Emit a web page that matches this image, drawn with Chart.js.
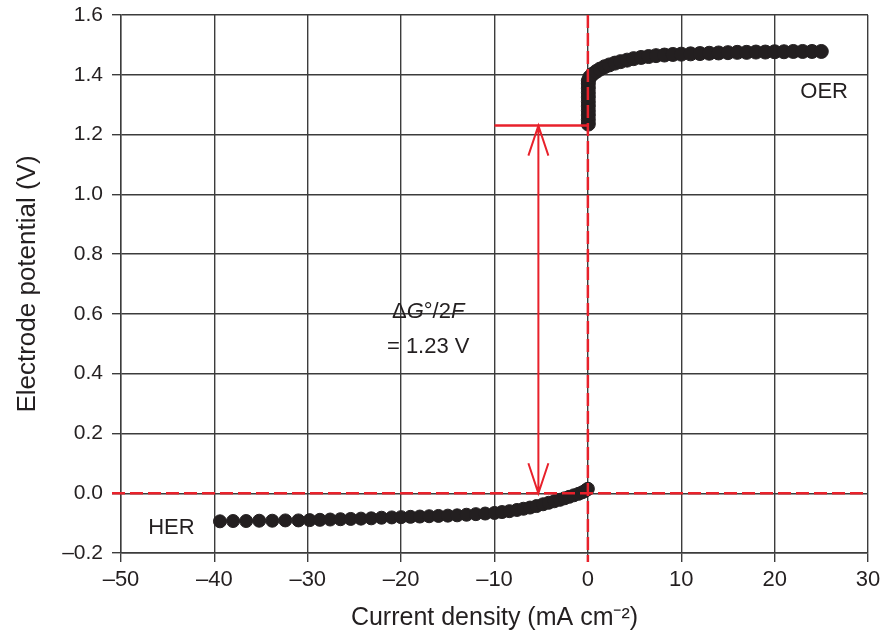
<!DOCTYPE html>
<html>
<head>
<meta charset="utf-8">
<script src="https://cdn.jsdelivr.net/npm/chart.js@4"></script>
<style>
  body { margin: 0; background: #fff; }
</style>
</head>
<body>
<canvas id="myChart" width="885" height="633"></canvas>
<script>
// HER branch (negative current)
const herCurrent = [-39.4,-38.0,-36.6,-35.2,-33.8,-32.4,-31.0,-29.8,-28.7,-27.6,-26.5,-25.4,-24.3,-23.2,-22.1,-21.0,-20.0,-19.0,-18.0,-17.0,-16.0,-15.0,-14.0,-13.0,-12.0,-11.0,-10.0,-9.2,-8.4,-7.6,-6.9,-6.2,-5.5,-4.8,-4.2,-3.6,-3.0,-2.5,-2.0,-1.5,-1.0,-0.6,-0.3,-0.1,0.0];
const herPotential = [-0.094,-0.093,-0.093,-0.092,-0.092,-0.091,-0.091,-0.090,-0.089,-0.088,-0.087,-0.086,-0.085,-0.084,-0.082,-0.081,-0.080,-0.079,-0.078,-0.077,-0.076,-0.075,-0.074,-0.072,-0.070,-0.068,-0.066,-0.063,-0.060,-0.056,-0.052,-0.048,-0.043,-0.037,-0.032,-0.027,-0.022,-0.017,-0.012,-0.007,-0.002,0.003,0.008,0.012,0.015];

// OER branch (positive current)
const oerCurrent = [0.05,0.05,0.05,0.05,0.05,0.05,0.05,0.05,0.05,0.05,0.05,0.2,0.5,0.9,1.3,1.8,2.3,2.9,3.5,4.2,4.9,5.7,6.5,7.3,8.2,9.1,10,11,12,13,14,15,16,17,18,19,20,21,22,23,24,25];
const oerPotential = [1.235,1.25,1.265,1.28,1.295,1.31,1.325,1.34,1.355,1.37,1.38,1.392,1.402,1.411,1.419,1.427,1.433,1.439,1.444,1.449,1.454,1.458,1.461,1.464,1.466,1.468,1.469,1.470,1.471,1.472,1.473,1.474,1.475,1.475,1.476,1.476,1.477,1.477,1.478,1.478,1.478,1.478];

const thermoV = 1.23;     // dG/2F
const arrowCurrent = -5.3;
const barFrom = -10;      // red bar at 1.23 V from -10 to 0

const xTicks = {min: -50, max: 30, step: 10};
const yTicks = {min: -0.2, max: 1.6, step: 0.2};

const ink = "#231f20";
const red = "#e8212b";
const font = "'Liberation Sans', Arial, Helvetica, sans-serif";

function minus(s) { return s.replace("-", "\u2013"); }

const annotate = {
  id: "annotate",
  afterDatasetsDraw(chart) {
    const ctx = chart.ctx;
    const xs = chart.scales.x, ys = chart.scales.y;
    const area = chart.chartArea;
    const x0 = xs.getPixelForValue(0), y0 = ys.getPixelForValue(0);
    ctx.save();
    ctx.strokeStyle = red;
    ctx.lineWidth = 2.5;

    // dashed zero lines
    ctx.setLineDash([13, 5]);
    ctx.beginPath();
    ctx.moveTo(x0, area.top);
    ctx.lineTo(x0, area.bottom + 9);
    ctx.moveTo(area.left - 9, y0);
    ctx.lineTo(area.right, y0);
    ctx.stroke();
    ctx.setLineDash([]);

    // 1.23 V bar
    const yT = ys.getPixelForValue(thermoV);
    ctx.beginPath();
    ctx.moveTo(xs.getPixelForValue(barFrom), yT);
    ctx.lineTo(x0, yT);
    ctx.stroke();

    // double headed arrow
    const xa = xs.getPixelForValue(arrowCurrent);
    ctx.lineWidth = 2;
    ctx.beginPath();
    ctx.moveTo(xa, yT);
    ctx.lineTo(xa, y0);
    ctx.moveTo(xa - 10, yT + 30); ctx.lineTo(xa, yT); ctx.lineTo(xa + 10, yT + 30);
    ctx.moveTo(xa - 10, y0 - 30); ctx.lineTo(xa, y0); ctx.lineTo(xa + 10, y0 - 30);
    ctx.stroke();

    // labels
    ctx.fillStyle = ink;
    ctx.textBaseline = "alphabetic";
    ctx.textAlign = "center";
    ctx.font = "22px " + font;
    ctx.fillText("HER", xs.getPixelForValue(-44.6), ys.getPixelForValue(-0.137));
    ctx.fillText("OER", xs.getPixelForValue(25.3), ys.getPixelForValue(1.321));
    ctx.fillText("= 1.23 V", xs.getPixelForValue(-17.1), ys.getPixelForValue(0.468));

    // dG°/2F with italic G and F
    const parts = [["\u0394", false], ["G", true], ["\u00b0/2", false], ["F", true]];
    let w = 0;
    parts.forEach(p => { ctx.font = (p[1] ? "italic " : "") + "22px " + font; w += ctx.measureText(p[0]).width; });
    let x = xs.getPixelForValue(-17.1) - w / 2;
    const yl = ys.getPixelForValue(0.585);
    ctx.textAlign = "left";
    parts.forEach(p => {
      ctx.font = (p[1] ? "italic " : "") + "22px " + font;
      ctx.fillText(p[0], x, yl);
      x += ctx.measureText(p[0]).width;
    });
    ctx.restore();
  }
};

new Chart("myChart", {
  type: "scatter",
  data: {
    datasets: [{
      label: "HER",
      data: herCurrent.map((c, i) => ({x: c, y: herPotential[i]})),
      backgroundColor: ink,
      borderColor: ink,
      pointRadius: 6.5
    }, {
      label: "OER",
      data: oerCurrent.map((c, i) => ({x: c, y: oerPotential[i]})),
      backgroundColor: ink,
      borderColor: ink,
      pointRadius: 7
    }]
  },
  options: {
    responsive: false,
    animation: false,
    layout: {padding: {top: 15, right: 17, left: 0, bottom: 0}},
    plugins: {legend: {display: false}, tooltip: {enabled: false}},
    scales: {
      x: {
        type: "linear",
        min: xTicks.min, max: xTicks.max,
        afterFit(s) { s.height = 80; s.paddingLeft = 0; s.paddingRight = 0; },
        ticks: {
          stepSize: xTicks.step,
          color: ink,
          padding: 5,
          font: {family: font, size: 22},
          callback: v => minus(String(v))
        },
        grid: {color: "#3c3c3c", lineWidth: 1.4, tickLength: 9},
        border: {color: "#3c3c3c", width: 1.4},
        title: {
          display: true,
          text: "Current density (mA cm\u207b\u00b2)",
          color: ink,
          font: {family: font, size: 25},
          padding: {top: 0, bottom: 0}
        }
      },
      y: {
        min: yTicks.min, max: yTicks.max,
        afterFit(s) { s.width = 121; s.paddingTop = 0; s.paddingBottom = 0; },
        ticks: {
          stepSize: yTicks.step,
          color: ink,
          padding: 9,
          font: {family: font, size: 21},
          callback: v => minus((Math.abs(v) < 1e-9 ? 0 : v).toFixed(1))
        },
        grid: {color: "#3c3c3c", lineWidth: 1.4, tickLength: 9},
        border: {color: "#3c3c3c", width: 1.4},
        title: {
          display: true,
          text: "Electrode potential (V)",
          color: ink,
          font: {family: font, size: 26},
          padding: {top: 12, bottom: 0}
        }
      }
    }
  },
  plugins: [annotate]
});
</script>
</body>
</html>
